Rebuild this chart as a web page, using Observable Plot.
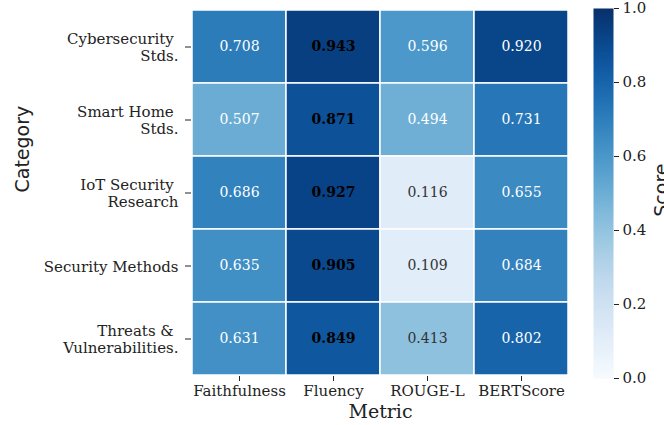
<!DOCTYPE html>
<html>
<head>
<meta charset="utf-8">
<script src="https://cdn.jsdelivr.net/npm/d3@7"></script>
<script src="https://cdn.jsdelivr.net/npm/@observablehq/plot@0.6"></script>
<style>
  html, body { margin: 0; padding: 0; background: white; overflow: hidden; }
  #chart { position: relative; width: 664px; height: 425px; }
  #chart svg { position: absolute; left: 0; top: 0; overflow: hidden; }
</style>
</head>
<body>
<div id="chart"></div>
<script>
const categories = ["Cybersecurity Stds.", "Smart Home Stds.", "IoT Security Research", "Security Methods", "Threats & Vulnerabilities."];
const categoryLabels = ["Cybersecurity\u00a0\nStds.", "Smart Home\u00a0\nStds.", "IoT Security\u00a0\nResearch", "Security Methods", "Threats &\u00a0\nVulnerabilities."];
const metrics = ["Faithfulness", "Fluency", "ROUGE-L", "BERTScore"];
const faithfulness = [0.708, 0.507, 0.686, 0.635, 0.631];
const fluency = [0.943, 0.871, 0.927, 0.905, 0.849];
const rougeL = [0.596, 0.494, 0.116, 0.109, 0.413];
const bertScore = [0.920, 0.731, 0.655, 0.684, 0.802];
const colorbarTicks = [0, 0.2, 0.4, 0.6, 0.8, 1.0];

const series = {"Faithfulness": faithfulness, "Fluency": fluency, "ROUGE-L": rougeL, "BERTScore": bertScore};
const table = [];
categories.forEach((c, i) => metrics.forEach(m => table.push({category: c, metric: m, value: series[m][i]})));
const boldCells = table.filter(d => d.metric === "Fluency");
const plainCells = table.filter(d => d.metric !== "Fluency");

const color = {type: "linear", scheme: "blues", domain: [0, 1]};
const ink = "#222";

const main = Plot.plot({
  width: 664, height: 425,
  marginLeft: 191, marginRight: 95, marginTop: 8, marginBottom: 49,
  style: {fontFamily: "DejaVu Serif", fontSize: "15px", background: "transparent", color: ink},
  x: {domain: metrics, padding: 0, axis: null},
  y: {domain: categories, padding: 0, axis: null},
  color,
  marks: [
    Plot.cell(table, {x: "metric", y: "category", fill: "value", stroke: "white", strokeWidth: 1.5}),
    Plot.text(plainCells, {
      x: "metric", y: "category",
      text: d => d.value.toFixed(3),
      fill: d => d.value < 0.45 ? "#333" : "white",
      fontSize: 14, fontFamily: "DejaVu Serif"
    }),
    Plot.text(boldCells, {
      x: "metric", y: "category",
      text: d => d.value.toFixed(3),
      fill: "black", fontWeight: "bold",
      fontSize: 14, fontFamily: "DejaVu Serif"
    }),
    Plot.axisY({tickSize: 6, tickPadding: 7, label: null, lineHeight: 1.15, fontSize: 15,
      tickFormat: d => categoryLabels[categories.indexOf(d)], stroke: ink, fill: ink}),
    Plot.axisX({tickSize: 5, tickPadding: 4, label: null, fontSize: 15, stroke: ink, fill: ink}),
    Plot.text(["Metric"], {frameAnchor: "bottom", dy: 41, fontSize: 19, fontFamily: "DejaVu Serif", fill: ink}),
    Plot.text(["Category"], {frameAnchor: "left", dx: -169, rotate: -90, fontSize: 19, fontFamily: "DejaVu Sans", fill: ink})
  ]
});

const bar = Plot.plot({
  width: 664, height: 425,
  marginLeft: 593, marginRight: 51, marginTop: 8, marginBottom: 47,
  style: {fontFamily: "DejaVu Serif", fontSize: "15px", background: "transparent", color: ink},
  x: {domain: [0, 1], axis: null},
  y: {domain: [0, 1], axis: null},
  color,
  marks: [
    Plot.raster({x1: 0, x2: 1, y1: 0, y2: 1, fill: (x, y) => y, pixelSize: 1}),
    Plot.axisY({anchor: "right", ticks: colorbarTicks, tickFormat: d => d.toFixed(1), tickSize: 5, tickPadding: 4, label: null, fontSize: 15, stroke: ink, fill: ink}),
    Plot.text(["Score"], {frameAnchor: "right", dx: 48, dy: -30, rotate: -90, fontSize: 19, fontFamily: "DejaVu Sans", fill: ink})
  ]
});

const el = document.getElementById("chart");
el.appendChild(main);
el.appendChild(bar);
</script>
</body>
</html>
